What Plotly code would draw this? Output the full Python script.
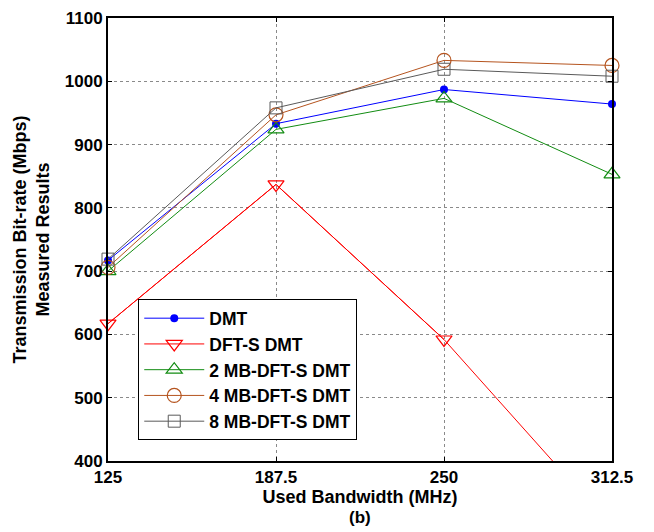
import plotly.graph_objects as go

bandwidth = [125, 187.5, 250, 312.5]
dmt = [717, 933, 987, 964]
dft_s = [617, 837, 592, 295]
mb2 = [700, 924, 973, 853]
mb4 = [706, 947, 1033, 1025]
mb8 = [719, 958, 1019, 1008]
x_ticks = [125, 187.5, 250, 312.5]
x_tick_text = ["125", "187.5", "250", "312.5"]
y_ticks = [400, 500, 600, 700, 800, 900, 1000, 1100]
y_min, y_max = 400, 1100

FONT = "Liberation Sans, Arial, sans-serif"
fig = go.Figure()

fig.add_trace(go.Scatter(x=bandwidth, y=dmt, name="DMT", mode="lines+markers",
                         line=dict(color="#0000FF", width=1),
                         marker=dict(symbol="circle", size=8, color="#0000FF"),
                         cliponaxis=False))
# DFT-S: full line (clipped to the axes)
fig.add_trace(go.Scatter(x=bandwidth, y=dft_s, name="DFT-S DMT", mode="lines",
                         line=dict(color="#FF0000", width=1),
                         cliponaxis=True, showlegend=False, legendgroup="dft", hoverinfo="skip"))
# DFT-S: markers of points inside the axis range
in_x = [b for b, v in zip(bandwidth, dft_s) if y_min <= v <= y_max]
in_y = [v for v in dft_s if y_min <= v <= y_max]
fig.add_trace(go.Scatter(x=in_x, y=in_y, name="DFT-S DMT", mode="lines+markers",
                         line=dict(color="#FF0000", width=1),
                         marker=dict(symbol="triangle-down-open", size=14, color="#FF0000", line=dict(width=1.2)),
                         cliponaxis=False, legendgroup="dft"))
fig.add_trace(go.Scatter(x=bandwidth, y=mb2, name="2 MB-DFT-S DMT", mode="lines+markers",
                         line=dict(color="#128C12", width=1),
                         marker=dict(symbol="triangle-up-open", size=14, color="#128C12", line=dict(width=1.2)),
                         cliponaxis=False))
fig.add_trace(go.Scatter(x=bandwidth, y=mb4, name="4 MB-DFT-S DMT", mode="lines+markers",
                         line=dict(color="#B5541F", width=1),
                         marker=dict(symbol="circle-open", size=14, color="#B5541F", line=dict(width=1.2)),
                         cliponaxis=False))
fig.add_trace(go.Scatter(x=bandwidth, y=mb8, name="8 MB-DFT-S DMT", mode="lines+markers",
                         line=dict(color="#5A5A5A", width=1),
                         marker=dict(symbol="square-open", size=12, color="#5A5A5A", line=dict(width=1)),
                         cliponaxis=False))

axis_common = dict(showline=True, linecolor="black", linewidth=2, mirror="ticks",
                   ticks="inside", ticklen=4, tickcolor="black",
                   showgrid=True, gridcolor="#8a8a8a", griddash="dot", gridwidth=1,
                   zeroline=False, automargin=False, ticklabeloverflow="allow",
                   tickfont=dict(family=FONT, size=17, color="black", weight="bold"))

# The page body adds an 8px offset, so the figure is sized to fill the rest of the window.
fig.update_layout(
    width=646, height=524,
    margin=dict(l=100, r=42, t=10, b=71),
    paper_bgcolor="white", plot_bgcolor="white",
    font=dict(family=FONT, color="black"),
    xaxis=dict(range=[125, 312.5], tickvals=x_ticks, ticktext=x_tick_text,
               title=dict(text="<b>Used Bandwidth (MHz)</b>", font=dict(size=18), standoff=0),
               **axis_common),
    yaxis=dict(range=[y_min, y_max], tickvals=y_ticks,
               title=dict(text="<b>Transmission Bit-rate (Mbps)<br>Measured Results</b>",
                          font=dict(size=18), standoff=10),
               **axis_common),
    legend=dict(x=0.06, y=0.365, xanchor="left", yanchor="top",
                bgcolor="white", bordercolor="black", borderwidth=1,
                font=dict(family=FONT, size=17.5, color="black", weight="bold"),
                tracegroupgap=0, itemwidth=60),
    showlegend=True,
)

fig.add_annotation(text="<b>(b)</b>", xref="paper", yref="paper", x=0.5, y=0,
                   yanchor="middle", yshift=-56, showarrow=False,
                   font=dict(family=FONT, size=17, color="black"))

fig.write_html("out.html")
